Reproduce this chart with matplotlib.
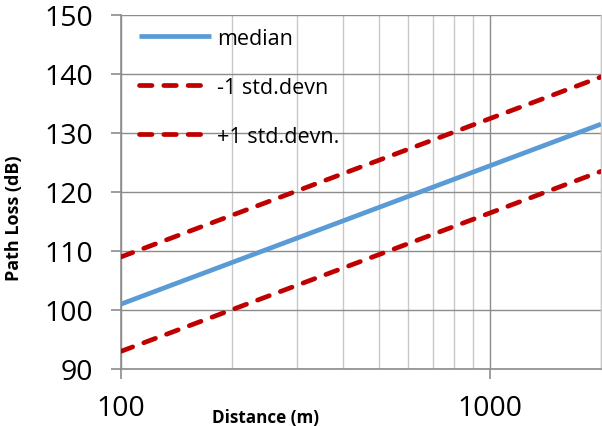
import matplotlib
matplotlib.use("Agg")
import matplotlib.pyplot as plt
from matplotlib.ticker import LogLocator, FixedLocator, NullFormatter

distance = [100, 2000]
median = [101.0, 131.5]
minus_std = [109.0, 139.5]
plus_std = [93.0, 123.5]
labels = ["median", "-1 std.devn", "+1 std.devn."]
yticks = [90, 100, 110, 120, 130, 140, 150]

plt.rcParams['font.family'] = ['Open Sans', 'DejaVu Sans']
plt.rcParams['lines.scale_dashes'] = False

fig = plt.figure(figsize=(6.02, 4.27), dpi=100)
ax = fig.add_axes([121/602, 1-370/427, 480/602, 354/427])

blue = '#5B9BD5'
red = '#C00000'
ax.plot(distance, median, color=blue, lw=3.4, solid_capstyle='butt', label=labels[0], zorder=3)
ax.plot(distance, minus_std, color=red, lw=3.4, dashes=(9, 8.5), dash_capstyle='round', label=labels[1], zorder=3)
ax.plot(distance, plus_std, color=red, lw=3.4, dashes=(9, 8.5), dash_capstyle='round', label=labels[2], zorder=3)

ax.set_xscale('log')
ax.set_xlim(100, 2000)
ax.set_ylim(90, 150)
ax.set_yticks(yticks)
ax.xaxis.set_major_locator(FixedLocator([100, 1000]))
ax.xaxis.set_minor_locator(LogLocator(base=10, subs=range(2, 10)))
ax.xaxis.set_minor_formatter(NullFormatter())
ax.set_xticklabels(['100', '1000'])

ax.grid(True, which='major', axis='both', color='#8c8c8c', lw=1.0, zorder=0)
ax.grid(True, which='minor', axis='x', color='#c8c8c8', lw=1.0, zorder=0)
ax.set_axisbelow(True)

ax.spines['top'].set_visible(False)
ax.spines['right'].set_color('#c8c8c8')
ax.spines['right'].set_linewidth(1.0)
for s in ['left', 'bottom']:
    ax.spines[s].set_color('#8c8c8c')
    ax.spines[s].set_linewidth(1.2)

ax.tick_params(axis='y', which='major', length=7, width=1.2, color='#8c8c8c', labelsize=20.5, pad=13)
ax.tick_params(axis='x', which='major', length=7, width=1.2, color='#8c8c8c', labelsize=20.5, pad=11)
ax.tick_params(axis='x', which='minor', length=0)

ax.text(0.302, -0.135, 'Distance (m)', transform=ax.transAxes, ha='center', va='center',
        fontsize=12.3, fontweight='bold')
ax.text(-0.222, 0.43, 'Path Loss (dB)', transform=ax.transAxes, ha='center', va='center',
        fontsize=13, fontweight='bold', rotation=90)

leg = ax.legend(loc='upper left', frameon=False, fontsize=15.5, handlelength=3.35,
                handletextpad=0.28, labelspacing=1.3, borderaxespad=0.2,
                bbox_to_anchor=(0.01, 1.0))

fig.savefig('out.png', dpi=100)
